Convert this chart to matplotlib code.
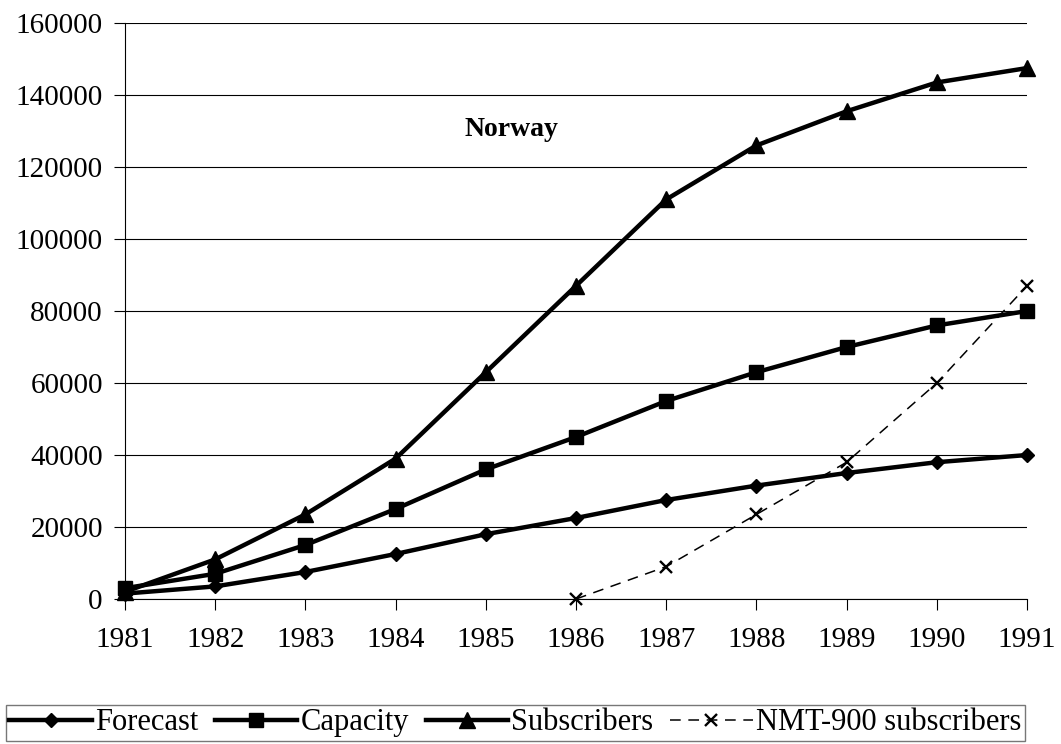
import matplotlib
matplotlib.use("Agg")
import matplotlib.pyplot as plt

years = [1981, 1982, 1983, 1984, 1985, 1986, 1987, 1988, 1989, 1990, 1991]
forecast = [1500, 3500, 7500, 12500, 18000, 22500, 27500, 31500, 35000, 38000, 40000]
capacity = [3000, 7000, 15000, 25000, 36000, 45000, 55000, 63000, 70000, 76000, 80000]
subscribers = [2000, 11000, 23500, 39000, 63000, 87000, 111000, 126000, 135500, 143500, 147500]
nmt_years = [1986, 1987, 1988, 1989, 1990, 1991]
nmt900 = [0, 9000, 23500, 38000, 60000, 87000]

plt.rcParams['font.family'] = ['Liberation Serif', 'DejaVu Serif']

fig = plt.figure(figsize=(10.61, 7.44), dpi=100)
ax = fig.add_axes([0.1178, 0.1949, 0.8502, 0.7741])

ax.plot(years, forecast, color='black', lw=3.2, marker='D', ms=7, label='Forecast')
ax.plot(years, capacity, color='black', lw=3.2, marker='s', ms=10, label='Capacity')
ax.plot(years, subscribers, color='black', lw=3.2, marker='^', ms=11, label='Subscribers')
ax.plot(nmt_years, nmt900, color='black', lw=1.1, ls=(0, (7, 5)), marker='x', ms=9,
        mew=1.7, label='NMT-900 subscribers')

ax.set_xlim(1981, 1991)
ax.set_ylim(0, 160000)
ax.set_xticks(years)
ax.set_yticks(range(0, 160001, 20000))
ax.yaxis.grid(True, color='black', lw=0.8)
ax.set_axisbelow(True)
for s in ['top', 'right']:
    ax.spines[s].set_visible(False)
ax.spines['left'].set_linewidth(0.8)
ax.spines['bottom'].set_linewidth(0.8)
ax.tick_params(axis='both', labelsize=21, length=8, width=0.8, color='black')
ax.tick_params(axis='x', pad=12)
ax.tick_params(axis='y', pad=8)
for ln in ax.lines:
    ln.set_clip_on(False)

ax.text(1985.28, 130300, 'Norway', fontsize=20, fontweight='bold', ha='center', va='center')

leg = fig.legend(loc='lower center', bbox_to_anchor=(0.4856, 0.0), ncol=4, fontsize=22,
                 frameon=True, fancybox=False, edgecolor='#555555', handlelength=2.7,
                 handletextpad=0.1, columnspacing=0.55, borderpad=0.12, borderaxespad=0.1)
leg.get_frame().set_linewidth(1.0)

fig.savefig('out.png', dpi=100)
